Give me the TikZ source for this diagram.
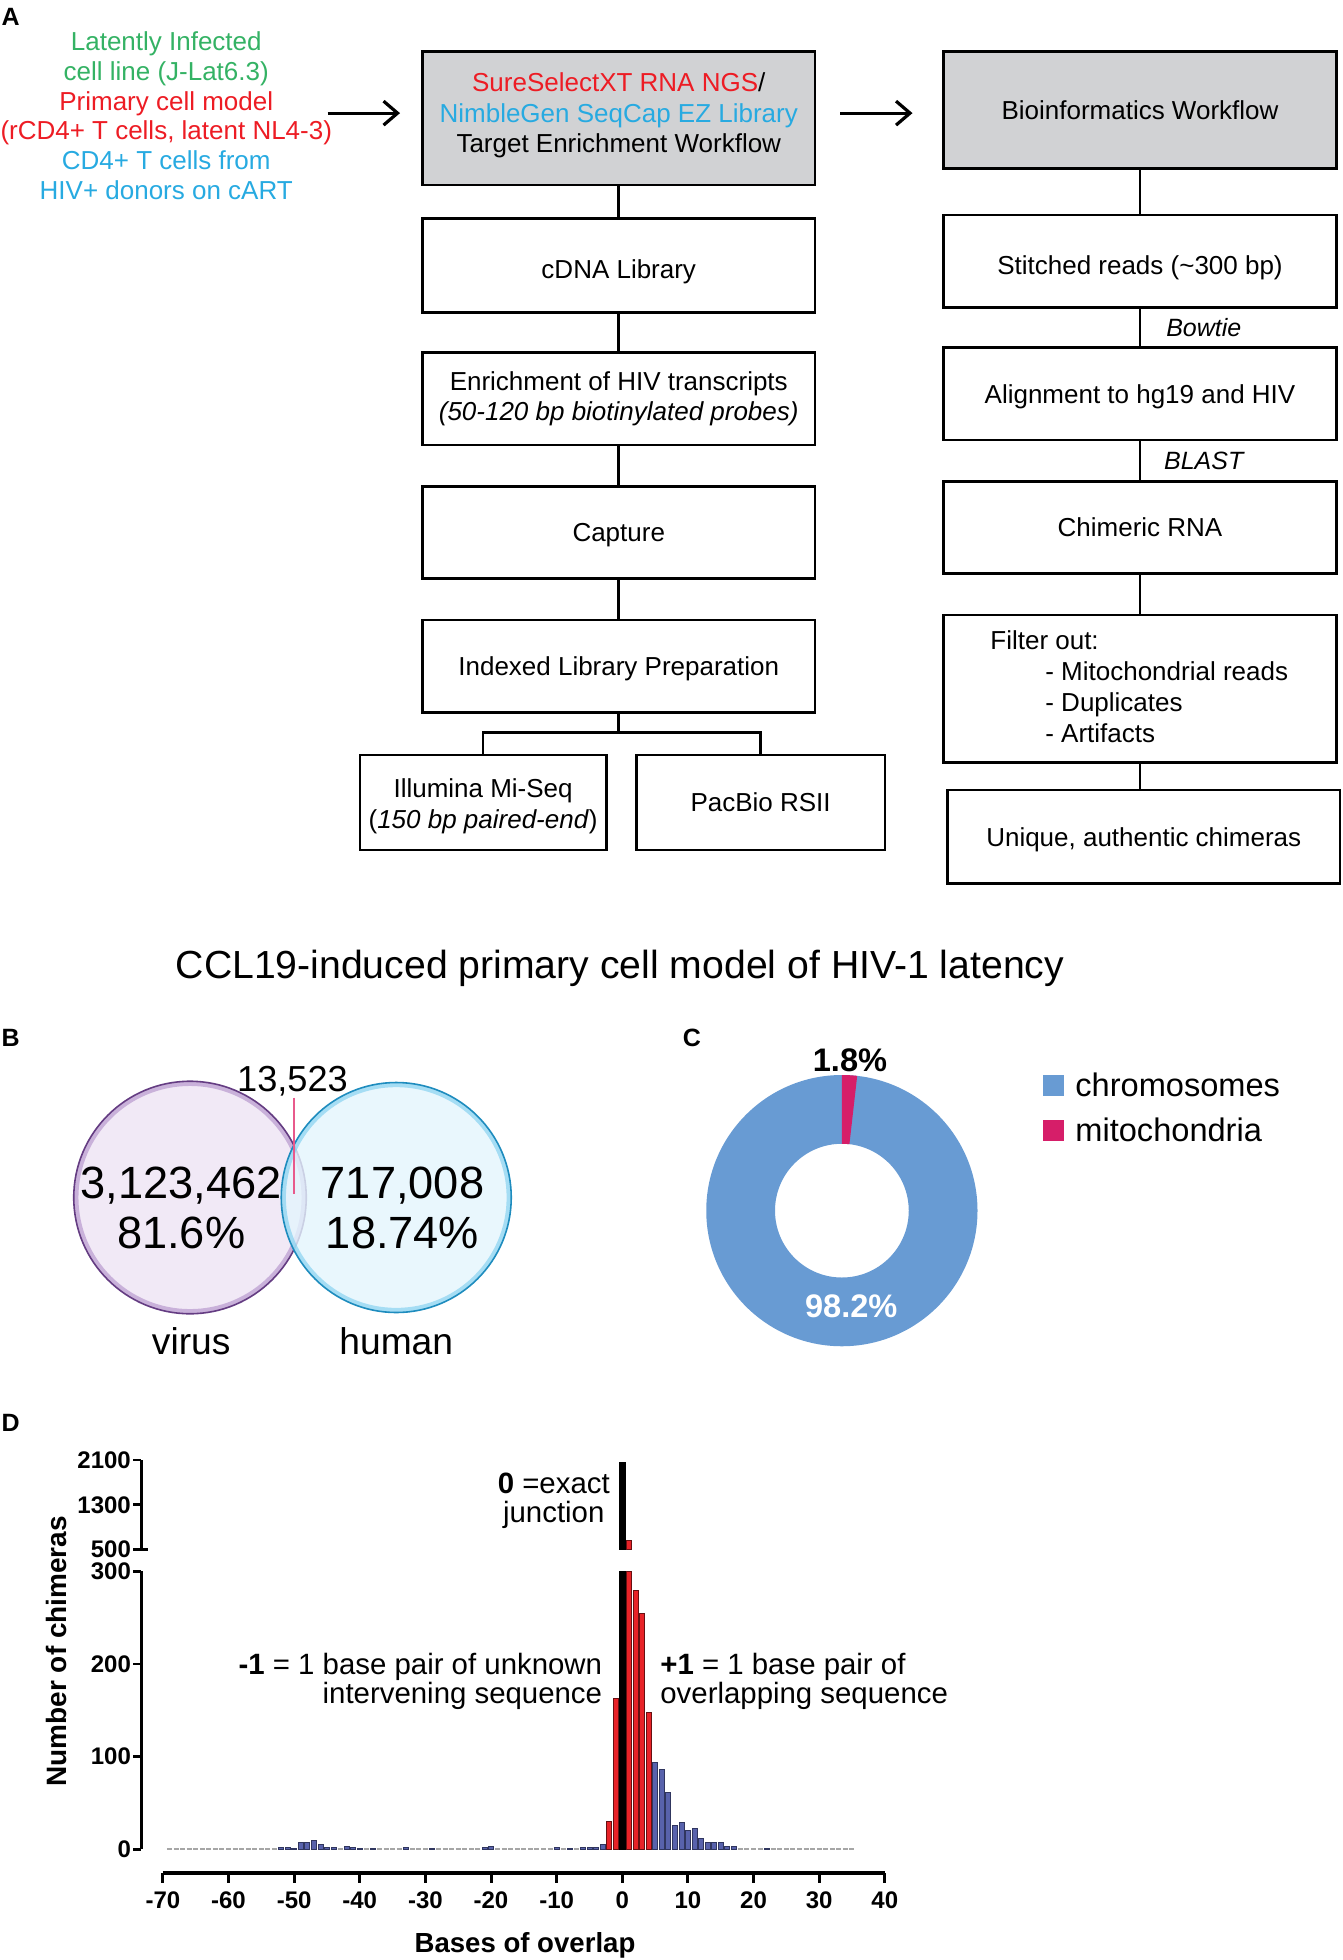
\documentclass[tikz,border=0pt]{standalone}
\usepackage{fontspec}
\setmainfont{Liberation Sans}
\usetikzlibrary{arrows.meta}
\newcommand\fsz[2]{\fontsize{#1pt}{#2pt}\selectfont}
\def\U{0.62525pt}
\definecolor{greenT}{RGB}{52,178,100}
\definecolor{redT}{RGB}{237,28,36}
\definecolor{blueT}{RGB}{39,170,225}
\definecolor{grayBox}{RGB}{209,210,212}
\definecolor{pieBlue}{RGB}{104,155,211}
\definecolor{piePink}{RGB}{214,30,105}
\definecolor{barRed}{RGB}{232,35,40}
\definecolor{barBlue}{RGB}{88,98,172}
\definecolor{vennLine}{RGB}{232,90,140}
\definecolor{virusFill}{RGB}{241,233,246}
\definecolor{virusRing}{RGB}{175,140,200}
\definecolor{virusEdge}{RGB}{100,60,130}
\definecolor{humanFill}{RGB}{228,245,253}
\definecolor{humanRing}{RGB}{120,205,238}
\definecolor{humanEdge}{RGB}{30,140,190}
\begin{document}
\begin{tikzpicture}[x=0.62525pt,y=-0.62525pt,
  box/.style={draw, line width=1.4pt, minimum width=314*\U, minimum height=74*\U, inner sep=0pt, align=center, font=\fsz{13}{15.3}},
  one/.style={text height=9.3pt, text depth=0pt},
  conn/.style={line width=1.3pt},
  arr/.style={line width=1.6pt, -{Straight Barb[length=7pt,width=12pt]}},
  lab/.style={font=\bfseries\fsz{12.5}{14}, anchor=north west, inner sep=0pt},
  txt/.style={inner sep=0pt, align=center, font=\fsz{13}{15.3}},
  tick/.style={inner sep=0pt, font=\bfseries\fsz{12}{13}},
  bb/.style={fill=barBlue, draw=barBlue!55!black, line width=0.3pt},
  rb/.style={fill=barRed, draw=barRed!45!black, line width=0.3pt},
  kb/.style={fill=black, draw=black, line width=0.3pt}]
\useasboundingbox (0,0) rectangle (1074,1568);

% ---------------- Panel A ----------------
\node[lab] (labA) at (1,6) {A};
\node[txt, font=\fsz{13}{14.9}] (src) at (133,92.5) {\color{greenT}Latently Infected\\\color{greenT}cell line (J-Lat6.3)\\\color{redT}Primary cell model\\\color{redT}(rCD4+ T cells, latent NL4-3)\\\color{blueT}CD4+ T cells from\\\color{blueT}HIV+ donors on cART};

\node[box, fill=grayBox, minimum height=107*\U] (tew) at (495,94.5) {};
\node[txt] (tewtxt) at (495,92.5) {{\color{redT}SureSelectXT RNA NGS}/\\{\color{blueT}NimbleGen SeqCap EZ Library}\\Target Enrichment Workflow};
\node[box, one, fill=grayBox, minimum height=94*\U] (bio) at (912,88) {Bioinformatics Workflow};

\coordinate (a1s) at (262,90.5);
\coordinate (a1e) at (320,90.5);
\coordinate (a2s) at (672,90.5);
\coordinate (a2e) at (730,90.5);
\draw[arr] (a1s) -- (a1e);
\draw[arr] (a2s) -- (a2e);

\node[box, minimum height=75*\U] (cdna) at (495,212.5) {};
\node[txt, one] (cdnatxt) at (495,215.5) {cDNA Library};
\node[box] (enr) at (495,319) {Enrichment of HIV transcripts\\\textit{(50-120 bp biotinylated probes)}};
\node[box, one] (cap) at (495,426) {Capture};
\node[box, one] (idx) at (495,533) {Indexed Library Preparation};
\node[box, minimum width=197*\U, minimum height=76*\U] (illu) at (386.5,642) {};
\node[txt] (illutxt) at (386.5,645) {Illumina Mi-Seq\\(\textit{150 bp paired-end})};
\node[box, one, minimum width=199*\U, minimum height=76*\U] (pac) at (608.5,642) {PacBio RSII};

\draw[conn] (tew.south) -- (cdna.north);
\draw[conn] (cdna.south) -- (enr.north);
\draw[conn] (enr.south) -- (cap.north);
\draw[conn] (cap.south) -- (idx.north);
\coordinate (fork) at (495,586);
\draw[conn] (idx.south) -- (fork);
\draw[conn] (illu.north) |- (fork) -| (pac.north);

\node[box] (sti) at (912,209) {};
\node[txt, one] (stitxt) at (912,212) {Stitched reads (\textasciitilde300 bp)};
\node[box, one] (aln) at (912,315) {Alignment to hg19 and HIV};
\node[box, one] (chi) at (912,422) {Chimeric RNA};
\node[box, minimum height=118*\U] (fil) at (912,551) {};
\node[anchor=west, align=left, inner sep=0pt, font=\fsz{13}{15.6}] (filtxt) at (792,549.5) {Filter out:\\\hspace*{27.5pt}- Mitochondrial reads\\\hspace*{27.5pt}- Duplicates\\\hspace*{27.5pt}- Artifacts};
\node[box, one, minimum height=75*\U] (uni) at (915,669.5) {Unique, authentic chimeras};

\draw[conn] (bio.south) -- (sti.north);
\draw[conn] (sti.south) -- (aln.north);
\draw[conn] (aln.south) -- (chi.north);
\draw[conn] (chi.south) -- (fil.north);
\draw[conn] (fil.south) -- (fil.south |- uni.north);
\node[inner sep=0pt, font=\itshape\fsz{12.5}{14}] (bowtie) at (963,262) {Bowtie};
\node[inner sep=0pt, font=\itshape\fsz{12.5}{14}] (blast) at (963,369) {BLAST};

% ---------------- Title ----------------
\node[inner sep=0pt, font=\fsz{19.6}{22}] (title) at (496,775) {CCL19-induced primary cell model of HIV-1 latency};

% ---------------- Panel B ----------------
\node[lab] (labB) at (1,823) {B};
\coordinate (vc) at (152,958);
\coordinate (hc) at (317,958);
\fill[virusFill] (vc) circle[radius=58.15pt];
\draw[virusRing, line width=2.2pt, opacity=0.6] (vc) circle[radius=56.9pt];
\draw[virusEdge, line width=0.8pt] (vc) circle[radius=58.15pt];
\fill[humanFill, fill opacity=0.8] (hc) circle[radius=57.52pt];
\draw[humanRing, line width=2.2pt, opacity=0.6] (hc) circle[radius=56.3pt];
\draw[humanEdge, line width=0.8pt] (hc) circle[radius=57.52pt];
\coordinate (pl1) at (235,878);
\coordinate (pl2) at (235,955);
\draw[vennLine, line width=1.2pt] (pl1) -- (pl2);
\node[inner sep=0pt, font=\fsz{18.1}{20}] (n13) at (234,865) {13,523};
\node[inner sep=0pt, align=center, font=\fsz{22.6}{25}] (nv) at (145,966) {3,123,462\\81.6\%};
\node[inner sep=0pt, align=center, font=\fsz{22.6}{25}] (nh) at (322,966) {717,008\\18.74\%};
\node[inner sep=0pt, font=\fsz{18.6}{20}] (virus) at (153,1073) {virus};
\node[inner sep=0pt, font=\fsz{18.6}{20}] (human) at (317,1073) {human};

% ---------------- Panel C ----------------
\node[lab] (labC) at (546,823) {C};
\coordinate (pc) at (673.5,968.5);
\fill[pieBlue, even odd rule] (pc) circle[radius=67.84pt] (pc) circle[radius=33.45pt];
\fill[piePink] ([shift={(90:67.84pt)}]pc) arc[start angle=90, end angle=83.52, radius=67.84pt] -- ([shift={(83.52:33.45pt)}]pc) arc[start angle=83.52, end angle=90, radius=33.45pt] -- cycle;
\node[inner sep=0pt, font=\bfseries\fsz{16.3}{18}] (p18) at (680,848) {1.8\%};
\node[inner sep=0pt, font=\bfseries\fsz{16.3}{18}, text=white] (p982) at (681,1045) {98.2\%};
\node[fill=pieBlue, minimum size=10.6pt, inner sep=0pt] (lg1) at (842.5,868.5) {};
\node[fill=piePink, minimum size=10.6pt, inner sep=0pt] (lg2) at (842.5,904.5) {};
\node[anchor=west, inner sep=0pt, font=\fsz{16.3}{18}] (lt1) at (860,868) {chromosomes};
\node[anchor=west, inner sep=0pt, font=\fsz{16.3}{18}] (lt2) at (860,904) {mitochondria};

% ---------------- Panel D ----------------
\node[lab] (labD) at (1,1131) {D};
% zero baseline dashes
\draw[gray!70, line width=0.9pt, dash pattern=on 2.501pt off 0.7816pt] (133.55,1479.4) -- (683.55,1479.4);
% blue bars
\foreach \u/\v in {-52/2.5,-51/2.5,-50/1.5,-49/7,-48/7,-47/9.5,-46/5,-45/2,-44/2,-42/3,-41/2,-40/1.5,-38/1.5,-33/2,-29/1.5,-21/2,-20/3.5,-10/2,-8/1.5,-6/2.5,-5/2.5,-4/2,-3/5.5,5/94,6/86,7/62,8/26,9/29,10/20,11/23,12/12,13/8,14/8,15/8,16/2.7,17/2.7,22/1.5}
  \filldraw[bb] ({497.8+5.25*\u-2},1479.4) rectangle ({497.8+5.25*\u+2},{1479.4-0.7413*\v});
% red bars
\foreach \u/\v in {-2/30,-1/163,1/300,2/279,3/255,4/148}
  \filldraw[rb] ({497.8+5.25*\u-2},1479.4) rectangle ({497.8+5.25*\u+2},{1479.4-0.7413*\v});
\filldraw[rb] (501.05,1239.5) rectangle (505.05,1232.3);
% black bar
\filldraw[kb] (495.55,1479.4) rectangle (500.05,1257);
\filldraw[kb] (495.55,1239.5) rectangle (500.05,1169.7);
% y axis
\draw[line width=1.3pt] (113,1168) -- (113,1239.5);
\draw[line width=1.3pt] (113,1257) -- (113,1479.4);
\foreach \yy in {1168,1203.8,1257,1331.1,1405.3,1479.4}
  \draw[line width=1.3pt] (106.5,\yy) -- (113,\yy);
\draw[line width=1.3pt] (106.5,1239.5) -- (118.5,1239.5);
\foreach \yy/\t [count=\i] in {1168/2100,1203.8/1300,1239.5/500,1257/300,1331.1/200,1405.3/100,1479.4/0}
  \node[tick, anchor=east] (yl\i) at (105,\yy) {\t};
% x axis
\draw[line width=1.8pt] (130.3,1498.5) -- (707.8,1498.5);
\foreach \xv [count=\i] in {-70,-60,...,40}{
  \draw[line width=1.5pt] ({497.8+5.25*\xv},1498.5) -- ({497.8+5.25*\xv},1506.5);
  \node[tick] (xl\i) at ({497.8+5.25*\xv},1520) {\xv};
}
\node[inner sep=0pt, font=\bfseries\fsz{13.8}{15}] (xlab) at (420,1556) {Bases of overlap};
\node[inner sep=0pt, rotate=90, font=\bfseries\fsz{14}{15}] (ylab) at (45,1321) {Number of chimeras};
% annotations
\node[inner sep=0pt, align=center, font=\fsz{14.7}{14.5}] (zlab) at (443,1201) {\textbf{0} =exact\\junction};
\node[inner sep=0pt, align=right, anchor=east, font=\fsz{14.7}{14.5}] (mlab) at (482,1345) {\textbf{-1} = 1 base pair of unknown\\intervening sequence};
\node[inner sep=0pt, align=left, anchor=west, font=\fsz{14.7}{14.5}] (plab) at (528,1345) {\textbf{+1} = 1 base pair of\\overlapping sequence};
\end{tikzpicture}
\end{document}
